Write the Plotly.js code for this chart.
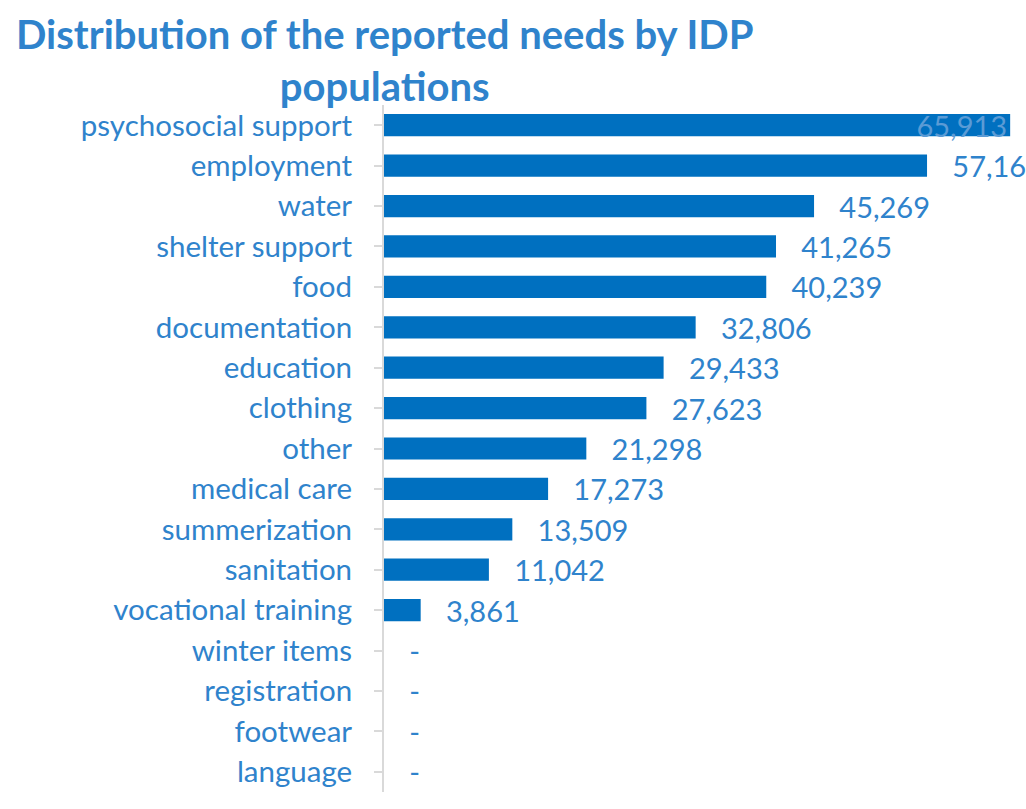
<!DOCTYPE html>
<html>
<head>
<meta charset="utf-8">
<script src="https://cdn.plot.ly/plotly-3.0.1.min.js"></script>
<style>
html,body{margin:0;padding:0;background:#fff;overflow:hidden;}
#chart{width:1026px;height:809px;}
</style>
</head>
<body>
<div id="chart"></div>
<script>
const categories = ["psychosocial support","employment","water","shelter support","food","documentation","education","clothing","other","medical care","summerization","sanitation","vocational training","winter items","registration","footwear","language"];
const values = [65913,57163,45269,41265,40239,32806,29433,27623,21298,17273,13509,11042,3861,0,0,0,0];
const titleText = "Distribution of the reported needs by IDP<br>populations";

const labelBlue = "#2f83cc";
const barBlue = "#0070C0";
const fontFam = "Lato, 'Open Sans', sans-serif";
const pad = "\u00a0\u00a0\u00a0";

const texts = values.map(v => v === 0 ? pad + "-" : (pad + v.toLocaleString("en-US")));
texts[0] = values[0].toLocaleString("en-US");
const positions = values.map((v, i) => i === 0 ? "inside" : "outside");

const trace = {
  type: "bar",
  orientation: "h",
  y: categories,
  x: values,
  marker: {color: barBlue},
  text: texts,
  textposition: positions,
  insidetextanchor: "end",
  constraintext: "none",
  cliponaxis: false,
  textfont: {family: fontFam, size: 29},
  insidetextfont: {family: fontFam, size: 29, color: "#5b9bd5"},
  outsidetextfont: {family: fontFam, size: 29, color: labelBlue},
  hoverinfo: "none"
};

const layout = {
  width: 1026,
  height: 809,
  margin: {l: 384, r: 0, t: 105, b: 17},
  paper_bgcolor: "#fff",
  plot_bgcolor: "#fff",
  bargap: 0.45,
  showlegend: false,
  title: {
    text: titleText,
    font: {family: fontFam, size: 40, color: labelBlue, weight: "bold"},
    xref: "container", yref: "container",
    x: 0.375, xanchor: "center",
    y: 0.94, yanchor: "top"
  },
  xaxis: {range: [0, 67580], visible: false, showgrid: false, zeroline: false, fixedrange: true},
  yaxis: {
    type: "category",
    range: [16.5, -0.5],
    showline: true, linecolor: "#d9d9d9", linewidth: 2,
    ticks: "outside", ticklen: 8, tickcolor: "#d9d9d9", tickwidth: 2,
    ticklabelstandoff: 16,
    tickfont: {family: fontFam, size: 29.5, color: labelBlue},
    showgrid: false, zeroline: false
  },
  yaxis2: {
    overlaying: "y", anchor: "x", side: "left",
    type: "linear", range: [16.5, -0.5],
    tickmode: "linear", tick0: 0, dtick: 1,
    ticks: "inside", ticklen: 8, tickcolor: "#d9d9d9", tickwidth: 2,
    showticklabels: false, showline: false, showgrid: false, zeroline: false
  }
};

Plotly.newPlot("chart", [trace], layout, {displayModeBar: false, staticPlot: true});
</script>
</body>
</html>
